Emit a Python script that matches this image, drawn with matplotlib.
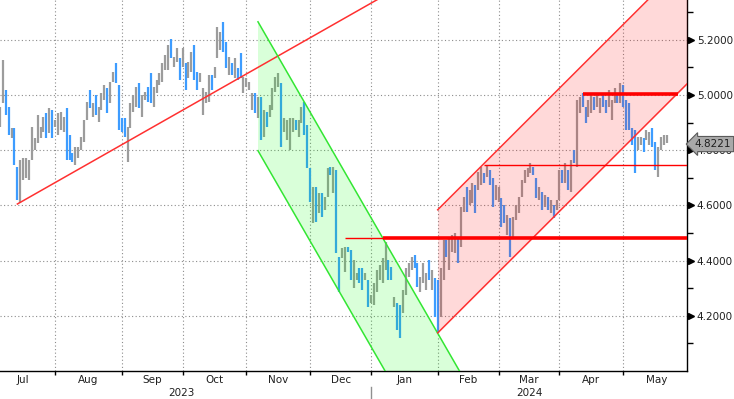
import numpy as np
import pandas as pd
import matplotlib.pyplot as plt
import matplotlib.transforms as mtransforms

plt.rcParams['font.family'] = ['DejaVu Sans']

# daily high / low, 5 Jul 2023 .. 22 May 2024 (one row per month)
high = [
    4.957, 5.127, 5.018, 4.957, 4.881, 4.881, 4.739, 4.765, 4.772, 4.772, 4.765, 4.884, 4.844, 4.928, 4.884, 4.920, 4.935, 4.953, 4.946,
    4.910, 4.935, 4.939, 4.920, 4.953, 4.855, 4.790, 4.812, 4.812, 4.848, 4.910, 4.975, 5.018, 4.971, 5.000, 4.957, 5.007, 5.036, 5.025, 5.047, 5.083, 5.116, 5.036,
    4.917, 4.917, 4.884, 4.971, 5.000, 5.029, 5.044, 5.000, 5.011, 5.029, 5.080, 5.029, 5.054, 5.080, 5.116, 5.145, 5.181, 5.203, 5.138, 5.170, 5.134,
    5.170, 5.116, 5.120, 5.156, 5.181, 5.083, 5.080, 5.025, 5.011, 5.073, 5.073, 5.101, 5.246, 5.228, 5.264, 5.192, 5.138, 5.116, 5.134, 5.098, 5.152, 5.065,
    5.062, 5.047, 5.007, 5.007, 4.993, 4.993, 4.946, 4.939, 4.964, 5.025, 5.065, 5.080, 5.044, 4.917, 4.910, 4.917, 4.917, 4.910, 4.910, 4.957, 4.975, 4.891,
    4.736, 4.667, 4.667, 4.645, 4.645, 4.631, 4.736, 4.739, 4.739, 4.729, 4.414, 4.446, 4.450, 4.450, 4.439, 4.403, 4.356, 4.374, 4.374, 4.356, 4.330,
    4.276, 4.320, 4.367, 4.385, 4.410, 4.468, 4.403, 4.377, 4.269, 4.247, 4.240, 4.294, 4.374, 4.392, 4.414, 4.421, 4.392, 4.341, 4.392, 4.356, 4.403, 4.367, 4.338,
    4.330, 4.374, 4.475, 4.475, 4.482, 4.493, 4.501, 4.482, 4.595, 4.631, 4.667, 4.656, 4.682, 4.674, 4.721, 4.739, 4.718, 4.747, 4.729, 4.700, 4.674,
    4.667, 4.627, 4.602, 4.566, 4.555, 4.558, 4.602, 4.631, 4.692, 4.729, 4.736, 4.754, 4.739, 4.700, 4.667, 4.649, 4.638, 4.631, 4.620, 4.602, 4.620,
    4.729, 4.729, 4.754, 4.729, 4.765, 4.801, 4.982, 4.993, 5.007, 4.957, 4.982, 5.000, 4.993, 5.007, 4.989, 5.007, 4.982, 5.018, 4.982, 5.025, 5.007, 5.044,
    5.036, 4.982, 4.971, 4.881, 4.873, 4.848, 4.848, 4.844, 4.873, 4.866, 4.881, 4.830, 4.812, 4.848, 4.855, 4.855,
]
low = [
    4.884, 4.971, 4.928, 4.855, 4.844, 4.747, 4.620, 4.609, 4.692, 4.700, 4.692, 4.765, 4.801, 4.826, 4.844, 4.866, 4.844, 4.863, 4.844,
    4.884, 4.855, 4.873, 4.866, 4.765, 4.765, 4.758, 4.747, 4.772, 4.801, 4.830, 4.910, 4.953, 4.920, 4.928, 4.902, 4.946, 4.982, 4.935, 4.971, 5.047, 5.044, 4.873,
    4.866, 4.848, 4.758, 4.881, 4.939, 4.957, 4.953, 4.920, 4.982, 4.975, 4.971, 4.957, 5.007, 5.036, 5.047, 5.091, 5.091, 5.134, 5.101, 5.120, 5.054,
    5.101, 5.018, 5.062, 5.083, 5.054, 5.018, 5.047, 4.928, 4.971, 4.975, 5.018, 5.062, 5.134, 5.163, 5.156, 5.098, 5.073, 5.073, 5.062, 5.054, 5.062, 5.007,
    5.029, 5.018, 4.946, 4.935, 4.917, 4.837, 4.848, 4.884, 4.920, 4.946, 5.011, 5.029, 4.812, 4.866, 4.837, 4.801, 4.866, 4.873, 4.848, 4.899, 4.855, 4.736,
    4.613, 4.537, 4.540, 4.573, 4.558, 4.584, 4.631, 4.711, 4.645, 4.428, 4.287, 4.410, 4.359, 4.432, 4.330, 4.301, 4.330, 4.320, 4.294, 4.330, 4.233,
    4.247, 4.240, 4.287, 4.330, 4.320, 4.367, 4.330, 4.330, 4.233, 4.149, 4.120, 4.211, 4.276, 4.341, 4.367, 4.374, 4.305, 4.287, 4.320, 4.294, 4.330, 4.294, 4.196,
    4.139, 4.196, 4.330, 4.414, 4.367, 4.432, 4.428, 4.392, 4.450, 4.577, 4.577, 4.602, 4.609, 4.573, 4.656, 4.674, 4.682, 4.703, 4.674, 4.595, 4.620,
    4.613, 4.522, 4.537, 4.493, 4.414, 4.486, 4.548, 4.573, 4.631, 4.682, 4.703, 4.718, 4.711, 4.627, 4.620, 4.584, 4.595, 4.584, 4.573, 4.555, 4.584,
    4.620, 4.682, 4.682, 4.656, 4.649, 4.754, 4.739, 4.935, 4.957, 4.899, 4.920, 4.935, 4.946, 4.957, 4.935, 4.957, 4.935, 4.957, 4.910, 4.971, 4.971, 4.971,
    4.957, 4.873, 4.873, 4.819, 4.718, 4.801, 4.819, 4.794, 4.837, 4.819, 4.812, 4.729, 4.703, 4.801, 4.819, 4.826,
]
# b = blue bar, g = grey bar
colour = ("ggbbgbbgggggggggbgb"
          "ggggbbbgggggbgbgggbggbb"
          "bbggggbggbbggggggbggb"
          "gbggbbggggbgggbbgbgbbg"
          "gggbgbgbggggbggggbggbb"
          "bgbgbggbgbbggbbggbbgb"
          "ggggggbbgbbggggbbgggbgb"
          "bggbgggbggbggbggbgbbg"
          "gbbgbgggggggbbgbgbgbg"
          "gbgbgbggbbggbggbbgggbg"
          "bbbbbggbggbbgggg")
last_price = 4.8221

# drawn studies: (date, value) anchors
trend_line = [('2023-07-13', 4.605), ('2023-11-06', 5.094)]
down_channel = [('2023-11-07', 5.265, 4.798), ('2024-02-21', 3.882, 3.415)]
up_channel = [('2024-02-01', 4.584, 4.138), ('2024-05-31', 5.486, 5.040)]
levels = [(4.482, '2023-12-19', '2024-01-05', 1.0),
          (4.482, '2024-01-05', '2024-05-31', 2.6),
          (5.003, '2024-04-11', '2024-05-28', 2.6),
          (4.747, '2024-02-23', '2024-05-31', 1.0)]

start = '2023-07-05'
end = '2024-05-31'


def pos(d):
    return np.busday_count(start, str(pd.Timestamp(d).date()))


fig = plt.figure(figsize=(7.34, 3.99), dpi=100)
ax = fig.add_axes([0, 28 / 399, 687 / 734, 371 / 399])

x = np.arange(len(high))
cmap = {'b': '#3d9cff', 'g': '#9c9c9c'}
ax.vlines(x, low, high, colors=[cmap[c] for c in colour], lw=1.6, zorder=2)

# trend line
(d0, v0), (d1, v1) = trend_line
p0, p1 = pos(d0), pos(d1)
slope = (v1 - v0) / (p1 - p0)
ax.plot([p0, 140], [v0, v0 + slope * (140 - p0)], color='#ff3030', lw=1.1, zorder=4)

# channels
for (da, ua, la), (db, ub, lb), fill, line in [
        (down_channel[0], down_channel[1], '#00ff00', '#33e633'),
        (up_channel[0], up_channel[1], '#ff0000', '#ff3030')]:
    pa, pb = pos(da), pos(db)
    xs = np.array([pa, pb])
    ax.fill_between(xs, [la, lb], [ua, ub], color=fill, alpha=0.15, lw=0, zorder=3)
    ax.plot(xs, [ua, ub], color=line, lw=1.1, zorder=4)
    ax.plot(xs, [la, lb], color=line, lw=1.1, zorder=4)

for val, da, db, w in levels:
    ax.plot([pos(da), pos(db)], [val, val], color='#ff0000', lw=w, zorder=4,
            solid_capstyle='butt')

ax.set_xlim(0, pos(end))
ax.set_ylim(4.0, 5.344)

# x axis: ticks at month starts, labels centred in months
months = pd.date_range('2023-07-01', '2024-06-01', freq='MS')
month_pos = [pos(m) for m in months]
ax.set_xticks(month_pos[1:-1])
ax.set_xticklabels([])
ax.tick_params(axis='x', which='major', length=3, width=1, direction='out', color='black')
centres = [(a + b) / 2 for a, b in zip(month_pos[:-1], month_pos[1:])]
ax.set_xticks(centres, minor=True)
ax.set_xticklabels([m.strftime('%b') for m in months[:-1]], minor=True)
ax.tick_params(axis='x', which='minor', length=0, pad=3, labelsize=7.5, labelcolor='#202020')

trans_x = mtransforms.blended_transform_factory(ax.transData, ax.transAxes)
y2024 = pos('2024-01-01')
ax.text((pos('2023-07-01') + y2024) / 2, -0.06, '2023', transform=trans_x,
        ha='center', va='center', fontsize=7.5, color='#202020')
ax.text((y2024 + pos(end)) / 2, -0.06, '2024', transform=trans_x,
        ha='center', va='center', fontsize=7.5, color='#202020')
ax.plot([y2024, y2024], [-0.043, -0.08], transform=trans_x, clip_on=False,
        color='#909090', lw=1)

# y axis on the right
ax.yaxis.tick_right()
yt = np.round(np.arange(4.2, 5.21, 0.2), 1)
ax.set_yticks(yt)
ax.set_yticklabels([f'{v:.4f}' for v in yt])
ax.set_yticks(np.round(np.arange(4.1, 5.31, 0.2), 1), minor=True)
ax.tick_params(axis='y', which='major', length=0, pad=7, labelsize=7.5, labelcolor='#202020')
ax.tick_params(axis='y', which='minor', length=4, width=1, direction='out', color='black')
trans_y = mtransforms.blended_transform_factory(ax.transAxes, ax.transData)
ax.plot(np.full(len(yt), 1.006), yt, ls='none', marker='>', ms=4.5, color='black',
        transform=trans_y, clip_on=False)

ax.grid(True, which='major', color='#8c8c8c', lw=0.8, ls=(0, (1, 2.2)))
ax.set_axisbelow(True)

for s in ['left', 'top']:
    ax.spines[s].set_visible(False)
for s in ['right', 'bottom']:
    ax.spines[s].set_color('black')
    ax.spines[s].set_linewidth(1)

ax.text(1.011, last_price, f'{last_price:.4f}', transform=trans_y, ha='left', va='center',
        fontsize=7.5, color='#202020', zorder=10, clip_on=False,
        bbox=dict(boxstyle='larrow,pad=0.25', fc='#a9a9a9', ec='#5a5a5a', lw=0.8))

fig.savefig('out.png', dpi=100)
